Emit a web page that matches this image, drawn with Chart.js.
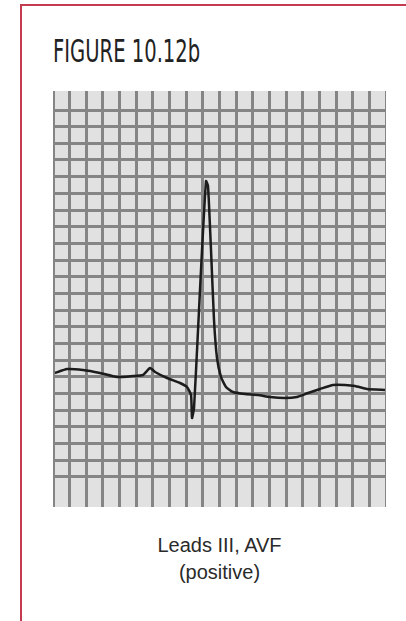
<!DOCTYPE html>
<html lang="en">
<head>
    <meta charset="UTF-8">
    <title>Figure 10.12b</title>
    <style>
      html, body { margin: 0; padding: 0; background: #fff; }
      body { width: 406px; height: 621px; position: relative; overflow: hidden; }
      #frame {
        position: absolute; left: 20px; top: 4px; width: 400px; height: 640px;
        border-top: 2px solid #c43a50; border-left: 2px solid #c43a50;
      }
      #title {
        position: absolute; left: 53px; top: 35px; white-space: nowrap;
        font-family: "DejaVu Sans Condensed", "Liberation Sans Narrow", sans-serif;
        font-size: 32px; line-height: 32px; color: #222;
        transform: scaleX(0.68); transform-origin: left top;
      }
      #wrap { position: absolute; left: 53px; top: 91px; width: 333px; height: 416px; }
      #caption {
        position: absolute; left: 53px; width: 333px; top: 532px; text-align: center;
        font-family: "Liberation Sans", Arial, sans-serif; font-size: 20px; line-height: 27px; color: #2a2a2a;
      }
    </style>
</head>
<body>
<div id="frame"></div>
<div id="title">FIGURE 10.12b</div>
<div id="wrap"><canvas id="ecgChart"></canvas></div>
<div id="caption">Leads III, AVF<br>(positive)</div>

<script src="https://cdn.jsdelivr.net/npm/chart.js@4/dist/chart.umd.min.js"></script>
<script>
  const traceX = [0.12, 0.84, 1.8, 2.82, 3.84, 4.8, 5.4, 5.83, 6.13, 6.85, 7.63, 8.05, 8.29, 8.35, 8.47,
    8.71, 8.95, 9.19, 9.31, 9.49, 9.67, 9.85, 10.09, 10.39, 10.81, 11.53, 12.31, 13.03, 13.93,
    14.65, 15.32, 16.04, 16.82, 17.54, 18.14, 18.86, 19.94];
  const traceY = [7.22, 7.46, 7.4, 7.22, 6.98, 7.04, 7.1, 7.52, 7.28, 6.92, 6.62, 6.38, 5.9, 4.52, 5.12,
    9.8, 14.6, 18.74, 18.44, 14.6, 10.4, 8.12, 6.98, 6.38, 6.08, 5.96, 5.9, 5.78, 5.72,
    5.78, 6.02, 6.26, 6.5, 6.5, 6.44, 6.26, 6.2];

  // paper extent in squares
  const X_RANGE = [0, 20];
  const Y_RANGE = [-0.82, 24.14];

  const paperBg = {
    id: 'paperBg',
    beforeDraw(chart) {
      const { ctx, chartArea: a } = chart;
      ctx.save();
      ctx.fillStyle = '#e1e1e1';
      ctx.fillRect(a.left, a.top, a.right - a.left, a.bottom - a.top);
      ctx.restore();
    }
  };

  const wholeSquares = (scale) => {
    scale.ticks = scale.ticks.filter((t) => Number.isInteger(t.value));
  };

  const gridAxis = (range) => ({
    type: 'linear',
    min: range[0],
    max: range[1],
    ticks: { display: false, stepSize: 1 },
    border: { display: false },
    grid: { color: '#858585', lineWidth: 3, drawTicks: false },
    afterBuildTicks: wholeSquares,
  });

  new Chart(document.getElementById('ecgChart'), {
    type: 'scatter',
    data: {
      datasets: [{
        data: traceX.map((x, i) => ({ x, y: traceY[i] })),
        showLine: true,
        borderColor: '#1c1c1c',
        borderWidth: 2.5,
        pointRadius: 0,
        tension: 0.15,
      }]
    },
    options: {
      responsive: true,
      maintainAspectRatio: false,
      animation: false,
      layout: { padding: 0 },
      plugins: { legend: { display: false }, tooltip: { enabled: false } },
      scales: {
        x: { ...gridAxis(X_RANGE), afterFit: (s) => { s.height = 0; } },
        y: { ...gridAxis(Y_RANGE), afterFit: (s) => { s.width = 0; } },
      }
    },
    plugins: [paperBg]
  });
</script>
</body>
</html>
